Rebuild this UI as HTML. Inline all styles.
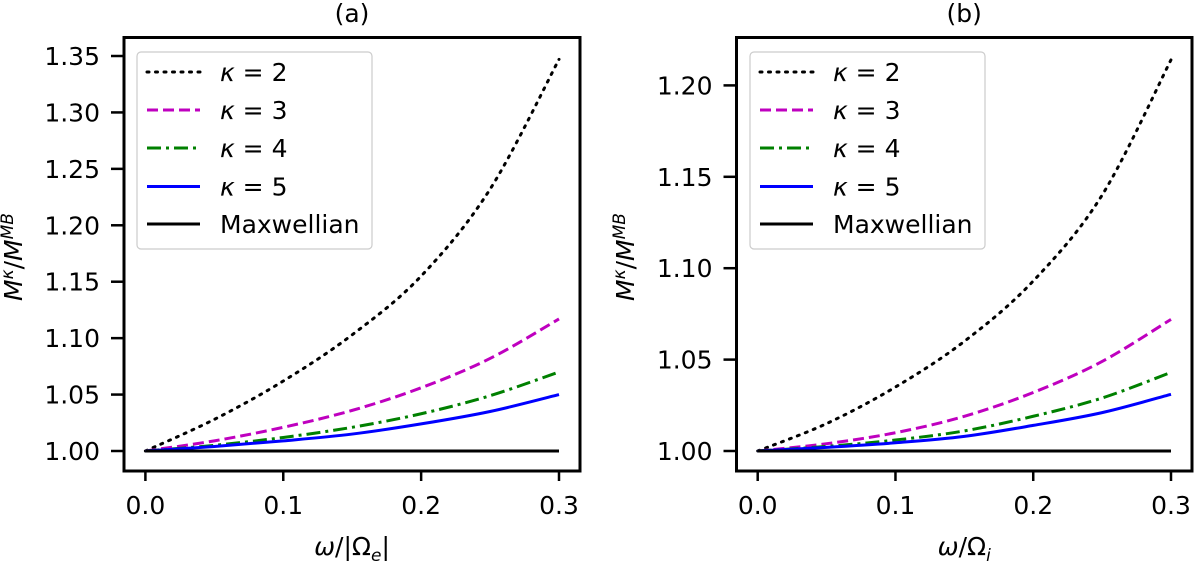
<!DOCTYPE html>
<html><head><meta charset="utf-8"><style>
body{margin:0;background:#fff}
svg{display:block;font-family:"DejaVu Sans","Liberation Sans",sans-serif}
</style></head><body>
<svg id="fig" width="1200" height="561" xmlns="http://www.w3.org/2000/svg"></svg>
<script>
const xTicks=[0,0.1,0.2,0.3];
const xs=[0,0.05,0.1,0.15,0.2,0.25,0.3];
const seriesLabels=["κ = 2","κ = 3","κ = 4","κ = 5","Maxwellian"];
// panel a values (excess over 1)
const aK2=[0,0.028,0.062,0.103,0.155,0.232,0.347];
const aK3=[0,0.009,0.021,0.036,0.056,0.082,0.117];
const aK4=[0,0.005,0.012,0.021,0.033,0.049,0.070];
const aK5=[0,0.004,0.009,0.015,0.024,0.035,0.050];
const aMax=[0,0,0,0,0,0,0];
const aYTicks=[1.00,1.05,1.10,1.15,1.20,1.25,1.30,1.35];
// panel b values
const bK2=[0,0.015,0.035,0.060,0.093,0.140,0.214];
const bK3=[0,0.004,0.010,0.019,0.032,0.049,0.072];
const bK4=[0,0.0025,0.006,0.011,0.019,0.029,0.043];
const bK5=[0,0.002,0.0045,0.008,0.014,0.021,0.031];
const bMax=[0,0,0,0,0,0,0];
const bYTicks=[1.00,1.05,1.10,1.15,1.20];

const NS="http://www.w3.org/2000/svg";
const svg=document.getElementById('fig');
function mk(tag,attrs,parent){const e=document.createElementNS(NS,tag);for(const k in attrs)e.setAttribute(k,attrs[k]);(parent||svg).appendChild(e);return e;}
const styles=[
 {stroke:"#000",dash:"2,6.5",cap:"round"},
 {stroke:"#bf00bf",dash:"11,5",cap:"butt"},
 {stroke:"#008000",dash:"14,5,3,5",cap:"butt"},
 {stroke:"#0000ff",dash:"",cap:"butt"},
 {stroke:"#000",dash:"",cap:"butt"}];
function smoothPath(pts){let d=`M${pts[0][0]},${pts[0][1]}`;
 for(let i=0;i<pts.length-1;i++){const p0=pts[Math.max(i-1,0)],p1=pts[i],p2=pts[i+1],p3=pts[Math.min(i+2,pts.length-1)];
  const c1=[p1[0]+(p2[0]-p0[0])/6,p1[1]+(p2[1]-p0[1])/6],c2=[p2[0]-(p3[0]-p1[0])/6,p2[1]-(p3[1]-p1[1])/6];
  d+=`C${c1[0]},${c1[1]} ${c2[0]},${c2[1]} ${p2[0]},${p2[1]}`;}return d;}

const TOP=37.5,BOT=471;
function panel(cfg){
 const g=mk('g',{});
 
 
 const X=v=>cfg.x0+(v-0)/(0.3)*(cfg.x3-cfg.x0);
 const Y=v=>cfg.y1-(v-1)/(cfg.yTopVal-1)*(cfg.y1-cfg.yTop);
 cfg.series.forEach((arr,i)=>{
  const pts=xs.map((x,j)=>[X(x),Y(1+arr[j])]);
  const s=styles[i];
  const p=mk('path',{d:smoothPath(pts),fill:"none",stroke:s.stroke,"stroke-width":3,"stroke-dasharray":s.dash,"stroke-linecap":s.cap},g);
  
  
 });
 const fr=mk('rect',{x:cfg.L,y:TOP,width:cfg.R-cfg.L,height:BOT-TOP,fill:"none",stroke:"#000","stroke-width":3},g);
 
 
 cfg.yTicks.forEach(t=>{const y=Y(t);
  mk('line',{x1:cfg.L-13,x2:cfg.L,y1:y,y2:y,stroke:"#000","stroke-width":2.5},g);
  const tx=mk('text',{x:cfg.L-24,y:y+9,"text-anchor":"end","font-size":25},g);tx.textContent=t.toFixed(2);
  
  });
 xTicks.forEach(t=>{const x=X(t);
  mk('line',{x1:x,x2:x,y1:BOT,y2:BOT+10,stroke:"#000","stroke-width":2.5},g);
  const tx=mk('text',{x:x,y:514,"text-anchor":"middle","font-size":25},g);tx.textContent=t.toFixed(1);
  
  });
 const tt=mk('text',{x:(cfg.L+cfg.R)/2,y:22,"text-anchor":"middle","font-size":25},g);tt.textContent=cfg.title;
 
 
 const xl=mk('text',{x:(cfg.L+cfg.R)/2,y:555,"text-anchor":"middle","font-size":25},g);xl.innerHTML=cfg.xlabel;
 
 
 const yl=mk('text',{x:0,y:0,"text-anchor":"middle","font-size":25,transform:`translate(${cfg.ylx},257) rotate(-90)`},g);
 yl.innerHTML='<tspan font-style="italic">M</tspan><tspan font-style="italic" font-size="17" dy="-9">κ</tspan><tspan dy="9">/</tspan><tspan font-style="italic">M</tspan><tspan font-style="italic" font-size="17" dy="-9">MB</tspan>';
 
 
 const lg=mk('g',{},g);
 
 
 mk('rect',{x:cfg.lgx,y:52,width:235,height:197,rx:4,fill:"#fff","fill-opacity":0.8,stroke:"#ccc","stroke-width":1.2},lg);
 const rows=[72,110,148,186.5,224];
 seriesLabels.forEach((lab,i)=>{const s=styles[i];
  const ln=mk('line',{x1:cfg.lgx+10,x2:cfg.lgx+63,y1:rows[i],y2:rows[i],stroke:s.stroke,"stroke-width":3,"stroke-dasharray":s.dash,"stroke-linecap":s.cap},lg);
  
  
  const tx=mk('text',{x:cfg.lgx+83,y:rows[i]+9,"font-size":25},lg);
  if(i<4){tx.innerHTML=`<tspan font-style="italic">κ</tspan> = ${i+2}`;}else tx.textContent=lab;
  
  });
}
panel({name:'panel-a',L:124,R:580,x0:145.4,x3:559,y1:451,yTop:56,yTopVal:1.35,yTicks:aYTicks,series:[aK2,aK3,aK4,aK5,aMax],title:'(a)',xlabel:'<tspan font-style="italic">ω</tspan>/|Ω<tspan font-style="italic" font-size="17" dy="6">e</tspan><tspan dy="-6">|</tspan>',ylx:22,lgx:137});
panel({name:'panel-b',L:736.5,R:1192,x0:757.7,x3:1171,y1:451,yTop:85.4,yTopVal:1.20,yTicks:bYTicks,series:[bK2,bK3,bK4,bK5,bMax],title:'(b)',xlabel:'<tspan font-style="italic">ω</tspan>/Ω<tspan font-style="italic" font-size="17" dy="6">i</tspan>',ylx:634,lgx:750});
</script>
</body></html>
